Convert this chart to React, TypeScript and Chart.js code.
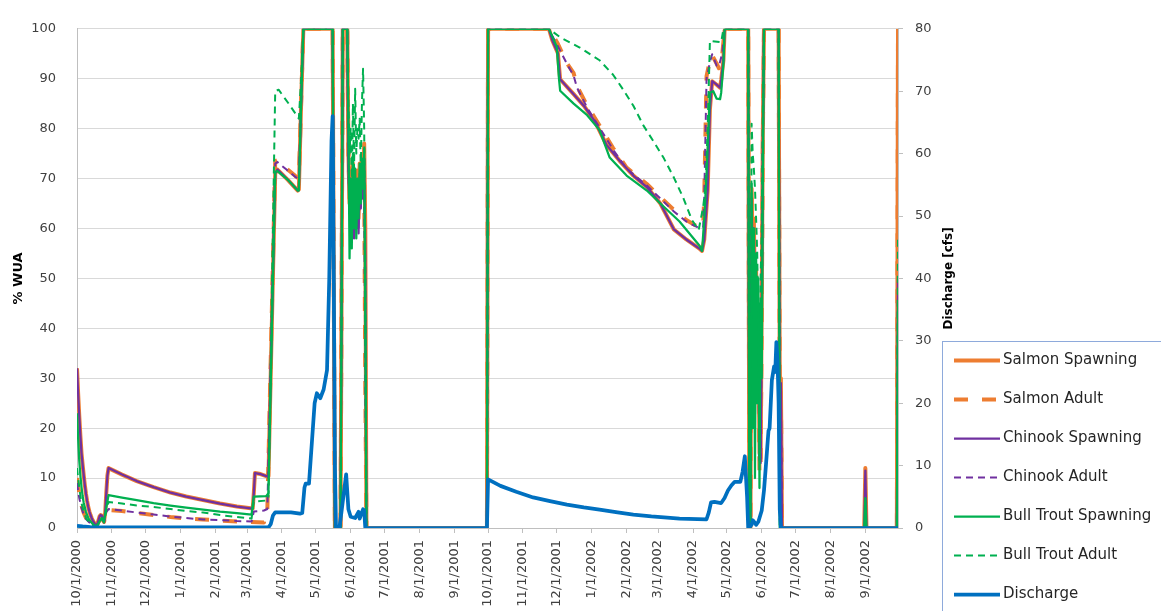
import React, { useEffect, useRef } from "react";
import { Chart, registerables } from "chart.js";

Chart.register(...registerables);

// Day offsets from 10/1/2000 of the month ticks and their labels
const MONTH_DAYS = [0, 31, 61, 92, 123, 151, 182, 212, 243, 273, 304, 335, 365, 396, 426, 457, 488, 516, 547, 577, 608, 638, 669, 700];
const MONTH_LABELS = [
  "10/1/2000", "11/1/2000", "12/1/2000", "1/1/2001", "2/1/2001", "3/1/2001", "4/1/2001", "5/1/2001",
  "6/1/2001", "7/1/2001", "8/1/2001", "9/1/2001", "10/1/2001", "11/1/2001", "12/1/2001", "1/1/2002",
  "2/1/2002", "3/1/2002", "4/1/2002", "5/1/2002", "6/1/2002", "7/1/2002", "8/1/2002", "9/1/2002",
];
const LAST_DAY = 729; // 9/30/2002

// [day, % WUA]
const SALMON_SPAWNING = [
  [0, 32], [1, 27], [2, 22.5], [3, 18.5], [4, 15], [5, 12.7], [6, 10.5], [7, 8.5], [8, 6.8], [9, 5.4], [10, 4.2],
  [11, 3.3], [12, 2.6], [13, 2], [14, 1.5], [15, 1.1], [16, 0.8], [17, 0.6], [18, 0.7], [19, 1.5], [20, 2.3],
  [21, 2.6], [22, 2.5], [23, 1.8], [24, 1.3], [25, 3], [26, 7], [27, 10.5], [28, 12], [40, 10.7], [53, 9.4],
  [68, 8.2], [83, 7.1], [97, 6.3], [112, 5.6], [127, 4.9], [142, 4.3], [156, 3.9], [157, 7], [158, 11],
  [163, 10.8], [168, 10.4], [170, 10.4], [176, 71], [178, 71.8], [187, 69.8], [196, 67.6], [197, 67.8],
  [199, 85], [201, 100], [227, 100], [229, 0], [234, 0], [236, 100], [240, 100], [241, 75], [242, 65],
  [243, 70], [244, 62], [245, 72], [246, 60], [247, 68], [248, 64], [249, 70], [250, 62], [251, 72], [252, 66],
  [253, 74], [254, 70], [255, 77], [256, 60], [257, 0], [364, 0], [365, 100], [419, 100], [422, 97.7],
  [427, 95.1], [429, 89.9], [441, 86.9], [450, 84.6], [460, 81.4], [470, 76.8], [482, 73.5], [494, 70.6],
  [506, 68.3], [518, 65], [530, 59.8], [541, 57.8], [553, 55.9], [555, 55.5], [557, 57.8], [560, 67.6],
  [562, 83.9], [564, 89.5], [568, 88.8], [571, 88.2], [572, 89.8], [574, 93.7], [575, 99.6], [576, 100],
  [596, 100], [597, 0], [598, 0], [599, 68], [600, 55], [601, 62], [602, 45], [603, 52], [604, 35], [605, 40],
  [606, 15], [607, 14], [608, 45], [609, 80], [610, 100], [623, 100], [624, 30], [625, 30], [626, 0],
  [699, 0], [700, 12], [701, 0], [728, 0], [729, 100],
];

const SALMON_ADULT = [
  [0, 10], [2, 7], [4, 4.5], [6, 3], [8, 2], [11, 1.2], [14, 0.8], [17, 0.5], [20, 1.5], [22, 2], [24, 1.2],
  [26, 3], [28, 3.6], [40, 3.4], [53, 3], [68, 2.6], [83, 2.2], [97, 1.9], [112, 1.7], [127, 1.5], [142, 1.3],
  [155, 1.2], [166, 1.1], [167, 3.3], [169, 3.5], [176, 73.5], [178, 73.7], [186, 72], [194, 70.5], [197, 70],
  [199, 85], [201, 100], [227, 100], [229, 0], [234, 0], [236, 100], [240, 100], [241, 75], [242, 66],
  [243, 72], [244, 63], [245, 73], [246, 62], [247, 70], [248, 65], [249, 72], [250, 63], [251, 73], [252, 67],
  [253, 75], [254, 72], [255, 70], [256, 28], [257, 0], [364, 0], [365, 100], [419, 100], [421, 99.3],
  [427, 97], [435, 93.1], [441, 91.1], [444, 88.5], [453, 84.6], [464, 80.6], [476, 76.1], [488, 72.2],
  [506, 68.9], [518, 66.3], [530, 63.7], [541, 61.7], [553, 60.1], [556, 60.5], [557, 66.9], [559, 90.5],
  [562, 93.7], [564, 94.7], [568, 93], [570, 92.1], [573, 95], [575, 100], [596, 100], [597, 0], [598, 0],
  [599, 66], [600, 58], [601, 60], [602, 48], [603, 50], [604, 38], [605, 35], [606, 11], [607, 12],
  [608, 40], [609, 78], [610, 100], [623, 100], [624, 28], [625, 28], [626, 0], [728, 0], [729, 100],
];

const CHINOOK_SPAWNING = [
  [0, 32], [1, 27], [2, 22.5], [3, 18.5], [4, 15], [5, 12.7], [6, 10.5], [7, 8.5], [8, 6.8], [9, 5.4], [10, 4.2],
  [11, 3.3], [12, 2.6], [13, 2], [14, 1.5], [15, 1.1], [16, 0.8], [17, 0.6], [18, 0.7], [19, 1.5], [20, 2.3],
  [21, 2.6], [22, 2.5], [23, 1.8], [24, 1.3], [25, 3], [26, 7], [27, 10.5], [28, 12], [40, 10.7], [53, 9.4],
  [68, 8.2], [83, 7.1], [97, 6.3], [112, 5.6], [127, 4.9], [142, 4.3], [156, 3.9], [157, 7], [158, 11],
  [163, 10.8], [168, 10.4], [170, 10.4], [176, 71], [178, 71.8], [187, 69.8], [196, 67.6], [197, 67.8],
  [199, 85], [201, 100], [227, 100], [229, 0], [234, 0], [236, 100], [240, 100], [241, 72], [242, 63],
  [243, 68], [244, 60], [245, 70], [246, 58], [247, 66], [248, 60], [249, 68], [250, 59], [251, 70], [252, 64],
  [253, 72], [254, 66], [255, 74], [256, 55], [257, 0], [364, 0], [365, 100], [419, 100], [422, 97.7],
  [427, 95.1], [429, 89.9], [441, 86.9], [450, 84.6], [460, 81.4], [470, 76.8], [482, 73.5], [494, 70.6],
  [506, 68.3], [518, 65], [530, 59.8], [541, 57.8], [553, 55.9], [555, 55.5], [557, 57.8], [560, 67.6],
  [562, 83.9], [564, 89.5], [568, 88.8], [571, 88.2], [572, 89.8], [574, 93.7], [575, 99.6], [576, 100],
  [596, 100], [597, 0], [598, 0], [599, 66], [600, 52], [601, 60], [602, 42], [603, 50], [604, 33], [605, 38],
  [606, 14], [607, 13], [608, 42], [609, 78], [610, 100], [623, 100], [624, 29], [625, 29], [626, 0],
  [699, 0], [700, 11.5], [701, 0], [728, 0], [729, 50],
];

const CHINOOK_ADULT = [
  [0, 9], [2, 6], [4, 4], [6, 2.7], [8, 1.8], [11, 1.1], [14, 0.7], [17, 0.5], [20, 1.4], [22, 1.9], [24, 1.1],
  [26, 3.2], [28, 3.8], [40, 3.5], [53, 3.1], [68, 2.7], [83, 2.3], [97, 2], [112, 1.7], [127, 1.6], [142, 1.4],
  [155, 1.3], [157, 3.3], [166, 3.5], [169, 3.8], [176, 73], [178, 73.3], [186, 71.8], [194, 70.3], [197, 70],
  [199, 85], [201, 100], [227, 100], [229, 0], [234, 0], [236, 100], [240, 100], [241, 72], [242, 64],
  [243, 70], [244, 61], [245, 71], [246, 60], [247, 68], [248, 62], [249, 70], [250, 60], [251, 71], [252, 65],
  [253, 73], [254, 70], [255, 68], [256, 30], [257, 0], [364, 0], [365, 100], [419, 100], [421, 99],
  [427, 96.5], [435, 93], [441, 90.6], [444, 88.2], [453, 84.2], [464, 80.2], [476, 75.8], [488, 72],
  [506, 68.6], [518, 66], [530, 63.4], [541, 61.4], [553, 60], [556, 60.3], [557, 66.5], [559, 90],
  [562, 93.3], [564, 94.9], [568, 92.6], [570, 92.5], [573, 95.2], [575, 100], [596, 100], [597, 0], [598, 0],
  [599, 64], [600, 56], [601, 58], [602, 46], [603, 48], [604, 36], [605, 33], [606, 13], [607, 14],
  [608, 40], [609, 76], [610, 100], [623, 100], [624, 28], [625, 28], [626, 0], [728, 0], [729, 50],
];

const BULL_TROUT_SPAWNING = [
  [0, 23], [1, 18], [2, 13.5], [3, 10.5], [4, 8.2], [5, 6.4], [6, 5], [8, 3.2], [10, 2], [12, 1.3], [14, 0.8],
  [16, 0.4], [18, 0.3], [20, 1.3], [22, 2], [24, 1.4], [26, 4], [28, 6.6], [40, 6.1], [53, 5.6], [68, 5],
  [83, 4.5], [97, 4.1], [112, 3.7], [127, 3.3], [142, 3], [155, 2.7], [157, 6.3], [168, 6.4], [170, 7],
  [176, 71.3], [178, 71.5], [187, 69.8], [196, 67.6], [197, 67.6], [199, 85], [201, 100], [227, 100], [229, 0],
  [234, 0], [236, 100], [240, 100], [241, 80], [242, 54], [243, 70], [244, 56], [245, 75], [246, 60], [247, 72],
  [248, 58], [249, 70], [250, 62], [251, 73], [252, 65], [253, 74], [254, 68], [255, 76], [256, 40], [257, 0],
  [364, 0], [365, 100], [419, 100], [426, 96.4], [428, 89.9], [429, 87.6], [441, 85], [453, 82.7], [464, 79.7],
  [473, 74.2], [488, 70.6], [506, 67.6], [518, 65], [535, 61.4], [553, 56.5], [555, 55.5], [557, 62],
  [559, 70.8], [562, 87.2], [565, 87.5], [568, 86], [571, 85.9], [572, 87.2], [574, 93], [575, 100], [596, 100],
  [597, 0], [598, 0], [599, 69], [600, 20], [601, 60], [602, 10], [603, 55], [604, 25], [605, 50], [606, 8],
  [607, 45], [608, 30], [609, 70], [610, 100], [623, 100], [624, 0], [699, 0], [700, 6], [701, 0], [728, 0],
  [729, 45],
];

const BULL_TROUT_ADULT = [
  [0, 12], [2, 8], [4, 5], [6, 3.2], [8, 2], [11, 1], [14, 0.6], [17, 0.4], [20, 1.2], [22, 1.8], [24, 1.1],
  [26, 3.5], [28, 5.2], [40, 4.9], [53, 4.5], [68, 4.2], [83, 3.8], [97, 3.4], [112, 3.1], [127, 2.6], [142, 2.2],
  [155, 1.9], [157, 5.3], [168, 5.5], [170, 6], [176, 87.5], [179, 87.8], [188, 85], [197, 82], [199, 90],
  [201, 100], [227, 100], [229, 0], [234, 0], [236, 100], [240, 100], [241, 85], [242, 75], [243, 80], [244, 70],
  [245, 85], [246, 72], [247, 88], [248, 75], [249, 80], [250, 78], [251, 82], [252, 72], [253, 85], [254, 92],
  [255, 80], [256, 50], [257, 0], [364, 0], [365, 100], [419, 100], [429, 98.3], [446, 96.3], [464, 93.7],
  [476, 90.8], [485, 87.8], [494, 84.6], [503, 80.6], [512, 77.4], [521, 74.1], [530, 70.2], [538, 66.3],
  [546, 61.7], [552, 59.7], [556, 64.3], [558, 68.2], [560, 80], [562, 97.6], [572, 97.3], [574, 100],
  [596, 100], [597, 0], [598, 0], [599, 81], [600, 75], [601, 72], [602, 68], [603, 62], [604, 55], [605, 40],
  [606, 20], [607, 50], [608, 60], [609, 85], [610, 100], [623, 100], [624, 0], [728, 0], [729, 58],
];

// [day, cfs]
const DISCHARGE = [
  [0, 0.35], [5, 0.25], [12, 0.15], [30, 0.1], [170, 0.1], [172, 0.6], [174, 2], [176, 2.5], [190, 2.5],
  [198, 2.3], [200, 2.4], [202, 6.5], [203, 7.1], [206, 7.1], [211, 20], [213, 21.6], [216, 20.8], [219, 22.2],
  [222, 25.3], [224, 40], [226, 62], [227, 66], [228, 40], [229, 10], [230, 0], [233, 0], [235, 2.8],
  [239, 8.6], [241, 3], [243, 1.8], [247, 1.6], [250, 2.6], [251, 1.5], [254, 3], [255, 2.8], [256, 0],
  [364, 0], [365, 7.8], [376, 6.75], [390, 5.8], [405, 4.9], [420, 4.3], [435, 3.76], [450, 3.3], [464, 2.93],
  [480, 2.5], [494, 2.14], [510, 1.85], [524, 1.67], [535, 1.5], [559, 1.4], [561, 2.5], [563, 4.1], [566, 4.2],
  [572, 4], [575, 4.8], [578, 6], [581, 6.8], [584, 7.4], [589, 7.4], [591, 9], [593, 11.5], [595, 5], [596, 0],
  [599, 0.5], [600, 1.25], [602, 0.8], [603, 0.5], [605, 1], [608, 2.8], [610, 6], [612, 10.7], [614, 15.6],
  [615, 16], [617, 23.7], [619, 25.9], [620, 25], [621, 29.8], [622, 27], [623, 20], [624, 3], [625, 0],
  [729, 0],
];

const FONT = "'DejaVu Sans', sans-serif";
const toPoints = (arr: number[][]) => arr.map(([x, y]) => ({ x, y }));

const overlayPlugin = {
  id: "overlay",
  afterDraw(chart: any) {
    const ctx = chart.ctx;
    const area = chart.chartArea;
    ctx.save();
    // right axis title (reads bottom to top)
    ctx.translate(949, (area.top + area.bottom) / 2);
    ctx.rotate(-Math.PI / 2);
    ctx.font = `bold 12px ${FONT}`;
    ctx.fillStyle = "#000";
    ctx.textAlign = "center";
    ctx.textBaseline = "middle";
    ctx.fillText("Discharge [cfs]", 0, 0);
    ctx.restore();

    // legend
    ctx.save();
    ctx.strokeStyle = "#8eaadb";
    ctx.lineWidth = 1;
    ctx.strokeRect(942.5, 341.5, 400, 400);
    chart.data.datasets.forEach((ds: any, i: number) => {
      const y = 360.5 + i * 39;
      ctx.beginPath();
      ctx.setLineDash(ds.borderDash || []);
      ctx.lineWidth = ds.borderWidth;
      ctx.strokeStyle = ds.borderColor;
      ctx.lineCap = "butt";
      ctx.moveTo(954, y);
      ctx.lineTo(1000, y);
      ctx.stroke();
      ctx.setLineDash([]);
      ctx.fillStyle = "#262626";
      ctx.font = `15px ${FONT}`;
      ctx.textAlign = "left";
      ctx.textBaseline = "middle";
      ctx.fillText(ds.label, 1003, y);
    });
    ctx.restore();
  },
};

export default function App() {
  const ref = useRef<HTMLCanvasElement | null>(null);
  useEffect(() => {
    if (!ref.current) return;
    Chart.defaults.font.family = FONT;
    const common = { pointRadius: 0, fill: false, tension: 0, borderJoinStyle: "round" as const };
    const chart = new Chart(ref.current, {
      type: "line",
      data: {
        datasets: [
          { ...common, label: "Salmon Spawning", data: toPoints(SALMON_SPAWNING), borderColor: "#ED7D31", borderWidth: 4, yAxisID: "y", order: 7 },
          { ...common, label: "Salmon Adult", data: toPoints(SALMON_ADULT), borderColor: "#ED7D31", borderWidth: 4, borderDash: [14, 14], yAxisID: "y", order: 6 },
          { ...common, label: "Chinook Spawning", data: toPoints(CHINOOK_SPAWNING), borderColor: "#7030A0", borderWidth: 2.25, yAxisID: "y", order: 5 },
          { ...common, label: "Chinook Adult", data: toPoints(CHINOOK_ADULT), borderColor: "#7030A0", borderWidth: 2, borderDash: [7, 5], yAxisID: "y", order: 4 },
          { ...common, label: "Bull Trout Spawning", data: toPoints(BULL_TROUT_SPAWNING), borderColor: "#00B050", borderWidth: 2.25, yAxisID: "y", order: 3 },
          { ...common, label: "Bull Trout Adult", data: toPoints(BULL_TROUT_ADULT), borderColor: "#00B050", borderWidth: 2, borderDash: [7, 5], yAxisID: "y", order: 2 },
          { ...common, label: "Discharge", data: toPoints(DISCHARGE), borderColor: "#0070C0", borderWidth: 3.75, yAxisID: "y1", order: 1 },
        ],
      },
      options: {
        animation: false,
        responsive: false,
        events: [],
        layout: { padding: { top: 18, right: 203, left: 0, bottom: 0 } },
        plugins: { legend: { display: false }, tooltip: { enabled: false } },
        scales: {
          x: {
            type: "linear",
            min: 0,
            max: LAST_DAY,
            afterBuildTicks: (s: any) => {
              s.ticks = MONTH_DAYS.map((v) => ({ value: v }));
            },
            afterFit: (s: any) => {
              s.height = 83;
            },
            grid: { drawOnChartArea: false, drawTicks: true, tickLength: 5, color: "#bfbfbf" },
            border: { color: "#bfbfbf" },
            ticks: {
              autoSkip: false,
              minRotation: 90,
              maxRotation: 90,
              padding: 7,
              color: "#404040",
              font: { family: FONT, size: 13 },
              callback: (v: any) => MONTH_LABELS[MONTH_DAYS.indexOf(Number(v))] ?? "",
            },
          },
          y: {
            position: "left",
            min: 0,
            max: 100,
            afterFit: (s: any) => {
              s.width = 77;
            },
            grid: { color: "#d9d9d9", drawTicks: false },
            border: { color: "#bfbfbf" },
            ticks: { stepSize: 10, padding: 21, color: "#404040", font: { family: FONT, size: 13 } },
            title: {
              display: true,
              text: "% WUA",
              color: "#000",
              font: { family: FONT, size: 13, weight: "bold" },
              padding: { top: 11, bottom: 0 },
            },
          },
          y1: {
            position: "right",
            min: 0,
            max: 80,
            afterFit: (s: any) => {
              s.width = 60;
            },
            grid: { drawOnChartArea: false, drawTicks: true, tickLength: 5, color: "#bfbfbf" },
            border: { color: "#bfbfbf" },
            ticks: { stepSize: 10, padding: 12, color: "#404040", font: { family: FONT, size: 13 } },
          },
        },
      },
      plugins: [overlayPlugin],
    } as any);
    return () => chart.destroy();
  }, []);

  return (
    <div style={{ position: "absolute", left: 0, top: 0, width: 1161, height: 611, background: "#fff" }}>
      <canvas ref={ref} width={1161} height={611} style={{ display: "block" }} />
    </div>
  );
}
